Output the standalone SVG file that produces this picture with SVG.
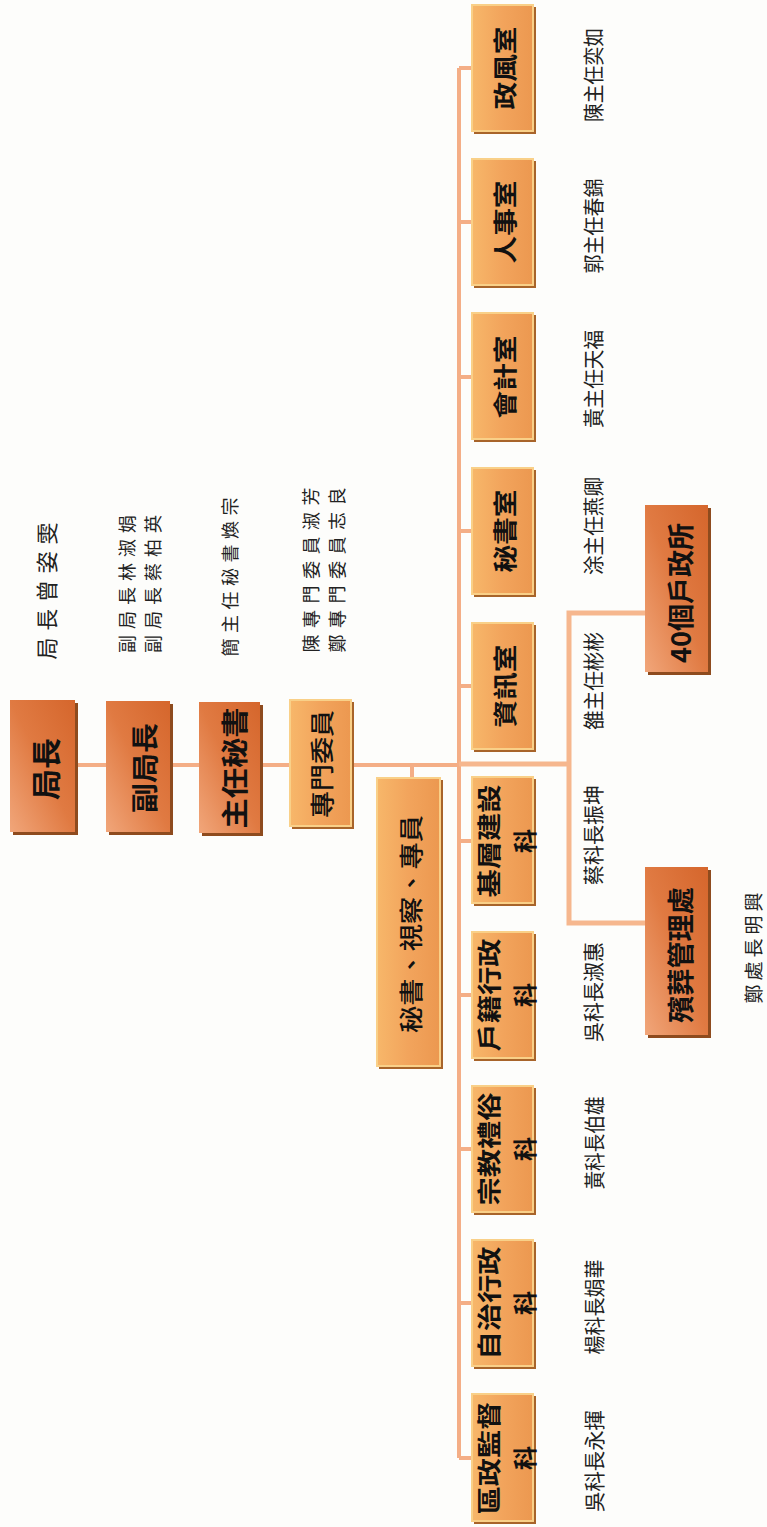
<svg xmlns="http://www.w3.org/2000/svg" width="767" height="1527" viewBox="0 0 767 1527">
<defs>
<linearGradient id="darkGrad" x1="1" y1="0" x2="0" y2="1">
<stop offset="0" stop-color="#D5662C"/>
<stop offset="0.5" stop-color="#E07A42"/>
<stop offset="1" stop-color="#F1A67A"/>
</linearGradient>
<linearGradient id="lightGrad" x1="0" y1="0" x2="1" y2="0">
<stop offset="0" stop-color="#F7B76A"/>
<stop offset="0.5" stop-color="#F2A45C"/>
<stop offset="1" stop-color="#EC9850"/>
</linearGradient>
<style>
.dshadow{fill:#8E4B1E;}
.dface{fill:url(#darkGrad);}
.lshadow{fill:#A8642A;}
.lface{fill:url(#lightGrad);stroke:#F9D088;stroke-width:2;}
.conn{stroke:#F4AE86;stroke-width:4;fill:none;}
.branch{stroke:#F6B78E;stroke-width:5;fill:none;}
text{font-family:"Noto Sans CJK TC","Noto Sans CJK SC",sans-serif;fill:#111;text-anchor:middle;dominant-baseline:central;}
.big{font-size:30px;font-weight:700;}
.mid{font-size:27px;font-weight:700;}
.box{font-size:24px;font-weight:700;}
.boxm{font-size:24px;font-weight:500;}
.lab{font-size:21px;font-weight:400;fill:#222;}
.labs{font-size:18px;font-weight:400;fill:#222;}
</style>
</defs>
<rect x="0" y="0" width="767" height="1527" fill="#FDFDFB"/>

<g id="connectors">
<line class="conn" x1="44" y1="765" x2="459" y2="765"/>
<line class="conn" x1="412" y1="765" x2="412" y2="779"/>
<line class="conn" x1="459" y1="68" x2="459" y2="1458"/>
<line class="conn" x1="459" y1="68" x2="473" y2="68"/>
<line class="conn" x1="459" y1="222" x2="473" y2="222"/>
<line class="conn" x1="459" y1="377" x2="473" y2="377"/>
<line class="conn" x1="459" y1="531" x2="473" y2="531"/>
<line class="conn" x1="459" y1="686" x2="473" y2="686"/>
<line class="conn" x1="459" y1="841" x2="473" y2="841"/>
<line class="conn" x1="459" y1="995" x2="473" y2="995"/>
<line class="conn" x1="459" y1="1149" x2="473" y2="1149"/>
<line class="conn" x1="459" y1="1303" x2="473" y2="1303"/>
<line class="conn" x1="459" y1="1458" x2="473" y2="1458"/>
<polyline class="branch" points="459,764 569,764"/>
<polyline class="branch" points="646,613 569,613 569,923 646,923"/>
</g>

<g id="n-juzhang">
<rect class="dshadow" x="13" y="703" width="65" height="132"/>
<rect class="dface" x="10" y="700" width="65" height="132"/>
<text class="big" transform="translate(44,769) rotate(-90)" textLength="62" lengthAdjust="spacingAndGlyphs">局長</text>
</g>
<g id="n-fujuzhang">
<rect class="dshadow" x="109" y="704" width="64" height="131"/>
<rect class="dface" x="106" y="701" width="64" height="131"/>
<text class="mid" transform="translate(143,768) rotate(-90)" textLength="90" lengthAdjust="spacingAndGlyphs">副局長</text>
</g>
<g id="n-zhurenmishu">
<rect class="dshadow" x="202" y="705" width="61" height="131"/>
<rect class="dface" x="199" y="702" width="61" height="131"/>
<text class="mid" transform="translate(233,768) rotate(-90)" textLength="121" lengthAdjust="spacingAndGlyphs">主任秘書</text>
</g>
<g id="n-zhuanmen">
<rect class="lshadow" x="292" y="702" width="62" height="127"/>
<rect class="lface" x="290" y="700" width="61" height="126"/>
<text class="boxm" transform="translate(320,764) rotate(-90)" textLength="108" lengthAdjust="spacingAndGlyphs">專門委員</text>
</g>
<g id="n-mishushicha">
<rect class="lshadow" x="379" y="780" width="64" height="289"/>
<rect class="lface" x="377" y="778" width="63" height="288"/>
<text class="boxm" transform="translate(409,924) rotate(-90)" textLength="218" lengthAdjust="spacingAndGlyphs">秘書、視察、專員</text>
</g>

<g id="n-zhengfeng">
<rect class="lshadow" x="474" y="7" width="62" height="127"/>
<rect class="lface" x="472" y="5" width="61" height="126"/>
<text class="box" transform="translate(503,68) rotate(-90)" textLength="83" lengthAdjust="spacingAndGlyphs">政風室</text>
</g>
<g id="n-renshi">
<rect class="lshadow" x="474" y="161" width="62" height="127"/>
<rect class="lface" x="472" y="159" width="61" height="126"/>
<text class="box" transform="translate(503,222) rotate(-90)" textLength="83" lengthAdjust="spacingAndGlyphs">人事室</text>
</g>
<g id="n-kuaiji">
<rect class="lshadow" x="474" y="315" width="62" height="127"/>
<rect class="lface" x="472" y="313" width="61" height="126"/>
<text class="box" transform="translate(503,377) rotate(-90)" textLength="83" lengthAdjust="spacingAndGlyphs">會計室</text>
</g>
<g id="n-mishushi">
<rect class="lshadow" x="474" y="470" width="62" height="127"/>
<rect class="lface" x="472" y="468" width="61" height="126"/>
<text class="box" transform="translate(503,531) rotate(-90)" textLength="83" lengthAdjust="spacingAndGlyphs">秘書室</text>
</g>
<g id="n-zixun">
<rect class="lshadow" x="474" y="625" width="62" height="127"/>
<rect class="lface" x="472" y="623" width="61" height="126"/>
<text class="box" transform="translate(503,686) rotate(-90)" textLength="83" lengthAdjust="spacingAndGlyphs">資訊室</text>
</g>
<g id="n-jiceng">
<rect class="lshadow" x="474" y="779" width="62" height="127"/>
<rect class="lface" x="472" y="777" width="61" height="126"/>
<text class="box" transform="translate(487,841) rotate(-90)" textLength="113" lengthAdjust="spacingAndGlyphs">基層建設</text>
<text class="box" transform="translate(523,841) rotate(-90)">科</text>
</g>
<g id="n-huji">
<rect class="lshadow" x="474" y="934" width="62" height="127"/>
<rect class="lface" x="472" y="932" width="61" height="126"/>
<text class="box" transform="translate(487,995) rotate(-90)" textLength="113" lengthAdjust="spacingAndGlyphs">戶籍行政</text>
<text class="box" transform="translate(523,995) rotate(-90)">科</text>
</g>
<g id="n-zongjiao">
<rect class="lshadow" x="474" y="1088" width="62" height="127"/>
<rect class="lface" x="472" y="1086" width="61" height="126"/>
<text class="box" transform="translate(487,1149) rotate(-90)" textLength="113" lengthAdjust="spacingAndGlyphs">宗教禮俗</text>
<text class="box" transform="translate(523,1149) rotate(-90)">科</text>
</g>
<g id="n-zizhi">
<rect class="lshadow" x="474" y="1242" width="62" height="127"/>
<rect class="lface" x="472" y="1240" width="61" height="126"/>
<text class="box" transform="translate(487,1303) rotate(-90)" textLength="113" lengthAdjust="spacingAndGlyphs">自治行政</text>
<text class="box" transform="translate(523,1303) rotate(-90)">科</text>
</g>
<g id="n-quzheng">
<rect class="lshadow" x="474" y="1396" width="62" height="128"/>
<rect class="lface" x="472" y="1394" width="61" height="127"/>
<text class="box" transform="translate(487,1458) rotate(-90)" textLength="113" lengthAdjust="spacingAndGlyphs">區政監督</text>
<text class="box" transform="translate(523,1458) rotate(-90)">科</text>
</g>

<g id="n-huzhengsuo">
<rect class="dshadow" x="648" y="508" width="63" height="167"/>
<rect class="dface" x="645" y="505" width="63" height="167"/>
<text class="mid" transform="translate(679,593) rotate(-90)" textLength="140" lengthAdjust="spacingAndGlyphs">40個戶政所</text>
</g>
<g id="n-binzang">
<rect class="dshadow" x="648" y="870" width="63" height="168"/>
<rect class="dface" x="645" y="867" width="63" height="168"/>
<text class="mid" transform="translate(679,955) rotate(-90)" textLength="136" lengthAdjust="spacingAndGlyphs">殯葬管理處</text>
</g>

<g id="labels-left">
<text class="lab" style="font-size:22px" transform="translate(45,591) rotate(-90)" textLength="137" lengthAdjust="spacing">局長曾姿雯</text>
<text class="labs" transform="translate(126,584) rotate(-90)" textLength="138" lengthAdjust="spacing">副局長林淑娟</text>
<text class="labs" transform="translate(152,584) rotate(-90)" textLength="138" lengthAdjust="spacing">副局長蔡柏英</text>
<text class="labs" transform="translate(229,577) rotate(-90)" textLength="159" lengthAdjust="spacing">簡主任秘書煥宗</text>
<text class="labs" transform="translate(310,570) rotate(-90)" textLength="165" lengthAdjust="spacing">陳專門委員淑芳</text>
<text class="labs" transform="translate(336,570) rotate(-90)" textLength="165" lengthAdjust="spacing">鄭專門委員志良</text>
</g>

<g id="labels-right">
<text class="lab" transform="translate(592,75) rotate(-90)" textLength="94" lengthAdjust="spacingAndGlyphs">陳主任奕如</text>
<text class="lab" transform="translate(592,226) rotate(-90)" textLength="95" lengthAdjust="spacingAndGlyphs">郭主任春錦</text>
<text class="lab" transform="translate(592,379) rotate(-90)" textLength="98" lengthAdjust="spacingAndGlyphs">黃主任天福</text>
<text class="lab" transform="translate(592,526) rotate(-90)" textLength="98" lengthAdjust="spacingAndGlyphs">涂主任燕卿</text>
<text class="lab" transform="translate(592,681) rotate(-90)" textLength="98" lengthAdjust="spacingAndGlyphs">雒主任彬彬</text>
<text class="lab" transform="translate(592,835) rotate(-90)" textLength="100" lengthAdjust="spacingAndGlyphs">蔡科長振坤</text>
<text class="lab" transform="translate(592,992) rotate(-90)" textLength="100" lengthAdjust="spacingAndGlyphs">吳科長淑惠</text>
<text class="lab" transform="translate(593,1143) rotate(-90)" textLength="93" lengthAdjust="spacingAndGlyphs">黃科長伯雄</text>
<text class="lab" transform="translate(593,1307) rotate(-90)" textLength="95" lengthAdjust="spacingAndGlyphs">楊科長娟華</text>
<text class="lab" transform="translate(593,1461) rotate(-90)" textLength="102" lengthAdjust="spacingAndGlyphs">吳科長永揮</text>
<text class="labs" style="font-size:19px" transform="translate(752,948) rotate(-90)" textLength="111" lengthAdjust="spacing">鄭處長明興</text>
</g>
</svg>
